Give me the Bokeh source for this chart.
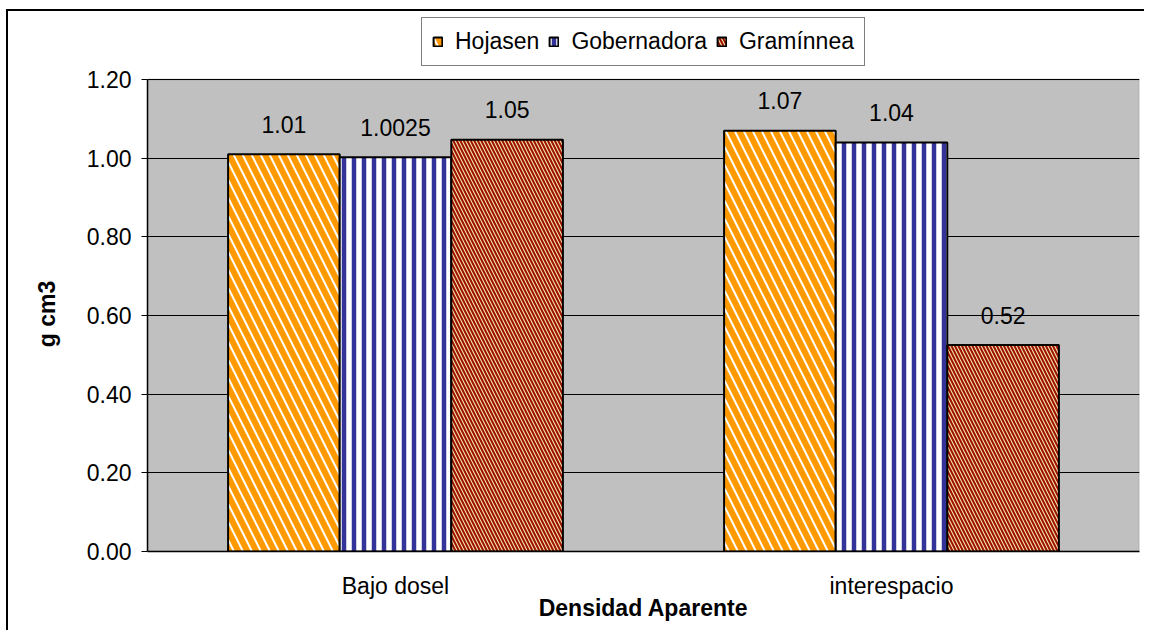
from bokeh.plotting import figure
from bokeh.models import (ColumnDataSource, FactorRange, Range1d, Legend, LegendItem,
                          NumeralTickFormatter, FixedTicker, BoxAnnotation)
from bokeh.core.properties import value
from bokeh.transform import dodge
from bokeh.embed import file_html
from bokeh.resources import INLINE

categories = ["Bajo dosel", "interespacio"]
series = ["Hojasen", "Gobernadora", "Gramínnea"]
hojasen = [1.01, 1.07]
gobernadora = [1.0025, 1.04]
graminnea = [1.047, 0.525]
hojasen_labels = ["1.01", "1.07"]
gobernadora_labels = ["1.0025", "1.04"]
graminnea_labels = ["1.05", "0.52"]
y_ticks = [0.0, 0.2, 0.4, 0.6, 0.8, 1.0, 1.2]
y_max = 1.2
y_title = "g cm3"
x_title = "Densidad Aparente"

FONT = "Liberation Sans"
FS = "23px"

# canvas origin on the page (after CSS margin), page coords of the grey plot area
OX, OY = 8, 11
AREA_L, AREA_R, AREA_T, AREA_B = 147, 1139, 79, 551
FRAME_T = 12
W, H = 1146 - OX, 632 - OY
y_end = y_max * (AREA_B - FRAME_T) / (AREA_B - AREA_T)

src = ColumnDataSource(dict(cat=categories, h=hojasen, g=gobernadora, r=graminnea,
                            hl=hojasen_labels, gl=gobernadora_labels, rl=graminnea_labels))

p = figure(width=W, height=H, x_range=FactorRange(*categories), y_range=Range1d(0, y_end),
           output_backend="svg", toolbar_location=None,
           min_border_left=AREA_L - OX, min_border_right=W - (AREA_R - OX),
           min_border_top=FRAME_T - OY, min_border_bottom=H - (AREA_B - OY))
# chart border on the top and left only, drawn as an outer shadow that does not change the layout
p.styles = {"margin-left": "8px", "margin-top": "11px",
            "box-shadow": "-2px -2px 0px 0px black"}
p.background_fill_color = "white"
p.border_fill_color = "white"
p.outline_line_color = None

plot_area = BoxAnnotation(bottom=0, top=y_max, fill_color="#C0C0C0", fill_alpha=1,
                          line_color="#808080", line_width=2, level="image")
p.add_layout(plot_area)

bw = 0.225
r1 = p.vbar(x=dodge("cat", -bw, range=p.x_range), top="h", width=bw, source=src,
            fill_color="white", line_color="black", line_width=2,
            hatch_pattern="left_diagonal_line", hatch_color="#FF9900", hatch_scale=18, hatch_weight=6)
r2 = p.vbar(x=dodge("cat", 0, range=p.x_range), top="g", width=bw, source=src,
            fill_color="white", line_color="black", line_width=2,
            hatch_pattern="vertical_line", hatch_color="#333399", hatch_scale=10, hatch_weight=4.5)
r3 = p.vbar(x=dodge("cat", bw, range=p.x_range), top="r", width=bw, source=src,
            fill_color="#F2E2A8", line_color="black", line_width=2,
            hatch_pattern="left_diagonal_line", hatch_color="#9C1000", hatch_scale=7, hatch_weight=2)

for off, col, lab in [(-bw, "h", "hl"), (0, "g", "gl"), (bw, "r", "rl")]:
    p.text(x=dodge("cat", off, range=p.x_range), y=col, text=lab, source=src,
           text_align="center", text_baseline="alphabetic", y_offset=-30,
           text_font=value(FONT), text_font_size=FS, text_color="black")

p.xgrid.grid_line_color = None
p.ygrid.grid_line_color = "black"
p.ygrid.grid_line_width = 1
p.yaxis.ticker = FixedTicker(ticks=y_ticks)
p.yaxis.formatter = NumeralTickFormatter(format="0.00")
p.yaxis.bounds = (0, y_max)
# non-breaking padding keeps the rotated title centred on the grey area (frame also holds the legend)
p.yaxis.axis_label = y_title + "\u00a0" * 10
p.xaxis.axis_label = x_title
for ax in (p.xaxis, p.yaxis):
    ax.axis_line_color = "black"
    ax.axis_line_width = 1.5
    ax.major_label_text_font = FONT
    ax.major_label_text_font_size = FS
    ax.major_label_text_color = "black"
    ax.axis_label_text_font = FONT
    ax.axis_label_text_font_size = FS
    ax.axis_label_text_font_style = "bold"
    ax.axis_label_text_color = "black"
    ax.minor_tick_line_color = None
p.yaxis.major_tick_out = 6
p.yaxis.major_tick_in = 0
p.yaxis.major_tick_line_color = "black"
p.yaxis.major_label_standoff = 10
p.yaxis.axis_label_standoff = 24
p.xaxis.major_tick_line_color = None
p.xaxis.major_label_standoff = 15
p.xaxis.axis_label_standoff = -7

legend = Legend(items=[LegendItem(label=s, renderers=[r]) for s, r in zip(series, [r1, r2, r3])],
                orientation="horizontal", location="top_center")
legend.label_text_font = FONT
legend.label_text_font_size = FS
legend.label_text_color = "black"
legend.glyph_width = 11
legend.glyph_height = 11
legend.label_standoff = 12
legend.spacing = 9
legend.padding = 10
legend.margin = 5
legend.border_line_color = "black"
legend.border_line_width = 1
legend.background_fill_color = "white"
legend.background_fill_alpha = 1
p.add_layout(legend, "center")

open("out.html", "w").write(file_html(p, INLINE))
